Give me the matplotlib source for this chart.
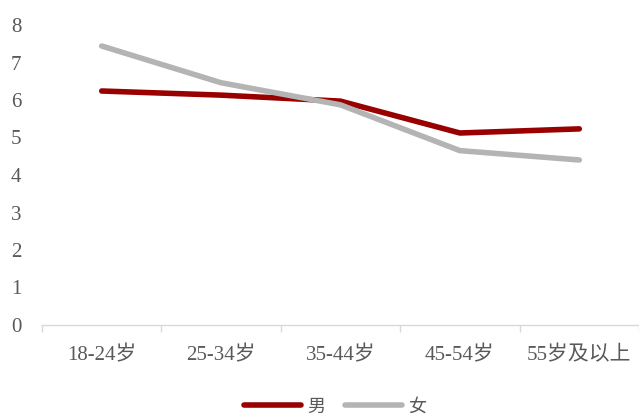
import matplotlib
matplotlib.use("Agg")
import matplotlib.pyplot as plt
import numpy as np

# 各年龄段数据
categories = ["18-24岁", "25-34岁", "35-44岁", "45-54岁", "55岁及以上"]
male = [6.24, 6.13, 5.97, 5.12, 5.23]
female = [7.44, 6.46, 5.87, 4.65, 4.40]

plt.rcParams['font.family'] = ['Liberation Serif', 'Noto Sans CJK SC']

text_color = '#595959'
red = '#990000'
gray = '#B4B4B4'

fig = plt.figure(figsize=(6.39, 4.19), dpi=100)
ax = fig.add_axes([42 / 639, 1 - 325 / 419, 597 / 639, 300 / 419])

x = np.arange(len(categories))
ax.plot(x, male, color=red, lw=4.0, solid_capstyle='round', label='男')
ax.plot(x, female, color=gray, lw=4.0, solid_capstyle='round', label='女')

ax.set_xlim(-0.5, len(categories) - 0.5)
ax.set_ylim(0, 8)
ax.set_yticks(range(0, 9))

# x 轴：标签在类别中心，刻度线在类别分界处
ax.set_xticks(x)
ax.set_xticklabels(categories)
ax.set_xticks(np.arange(-0.5, len(categories)), minor=True)
ax.tick_params(axis='x', which='major', length=0, pad=15, labelsize=15, labelcolor=text_color)
ax.tick_params(axis='x', which='minor', length=5, width=1, color='#D9D9D9')
ax.tick_params(axis='y', length=0, pad=15, labelsize=15, labelcolor=text_color)

for side in ['top', 'right', 'left']:
    ax.spines[side].set_visible(False)
ax.spines['bottom'].set_color('#D9D9D9')
ax.spines['bottom'].set_linewidth(1)

fig.legend(loc='center', bbox_to_anchor=(0.524, 1 - 407 / 419), ncol=2, frameon=False,
           fontsize=13, handlelength=3.15, columnspacing=1.1, handletextpad=0.35,
           labelcolor=text_color)

fig.savefig('out.png', dpi=100)
